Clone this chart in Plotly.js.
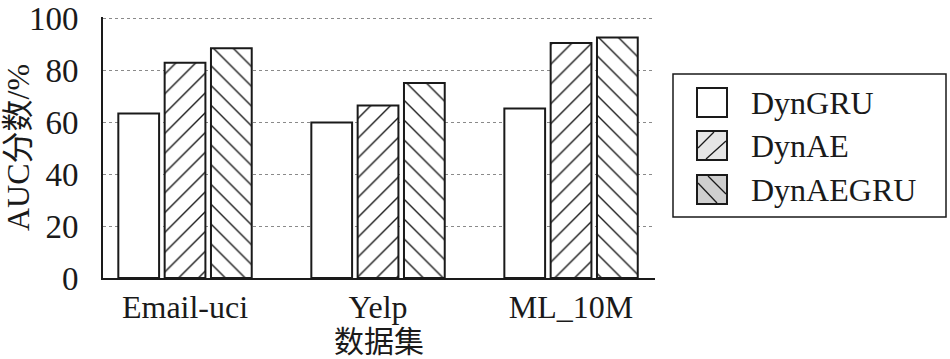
<!DOCTYPE html>
<html>
<head>
<meta charset="utf-8">
<script src="https://cdn.plot.ly/plotly-3.0.1.min.js"></script>
<style>html,body{margin:0;padding:0;background:#fff;}#chart{width:950px;height:359px;}</style>
</head>
<body>
<div id="chart"></div>
<script>
const categories = ["Email-uci", "Yelp", "ML_10M"];
const seriesNames = ["DynGRU", "DynAE", "DynAEGRU"];
const dynGRU = [63.3, 59.8, 65.2];
const dynAE = [82.8, 66.4, 90.4];
const dynAEGRU = [88.4, 75.0, 92.5];
const yTicks = [0, 20, 40, 60, 80, 100];

const FONT = "'Liberation Serif', 'Times New Roman', 'Noto Sans CJK SC', serif";
const INK = "#1a1a1a";
const shapesPat = ["", "/", "\\"];
const legendFill = ["#ffffff", "#e6e6e6", "#cfcfcf"];
const values = [dynGRU, dynAE, dynAEGRU];

const W = 950, H = 359;
const M = {l: 103, r: 295, t: 17, b: 81};
const PW = W - M.l - M.r, PH = H - M.t - M.b;
const px = x => (x - M.l) / PW;          // pixel -> paper x
const py = y => (H - M.b - y) / PH;      // pixel -> paper y

const traces = seriesNames.map((name, i) => ({
  type: "bar",
  name: name,
  x: categories,
  y: values[i],
  showlegend: false,
  marker: {
    color: "#ffffff",
    line: {color: INK, width: 2},
    pattern: {shape: shapesPat[i], fgcolor: INK, bgcolor: "#ffffff", size: 14, solidity: 0.1}
  },
  hoverinfo: "skip"
}));

// manual legend (box, swatches, hatch strokes, labels)
const lgShapes = [];
const lgAnn = [];
lgShapes.push({type: "rect", xref: "paper", yref: "paper",
  x0: px(673), x1: px(946), y0: py(217), y1: py(74),
  line: {color: INK, width: 1.5}, fillcolor: "rgba(0,0,0,0)"});
const rowTop = [88, 131, 175];
const sw = 30, sx = 697;
seriesNames.forEach((name, i) => {
  const t = rowTop[i], b = t + 29;
  lgShapes.push({type: "rect", xref: "paper", yref: "paper",
    x0: px(sx), x1: px(sx + sw), y0: py(b), y1: py(t),
    line: {color: INK, width: 2}, fillcolor: legendFill[i]});
  if (shapesPat[i] === "/") {
    lgShapes.push({type: "line", xref: "paper", yref: "paper",
      x0: px(sx + 1), y0: py(t + 17), x1: px(sx + 17), y1: py(t + 1), line: {color: INK, width: 1.3}});
    lgShapes.push({type: "line", xref: "paper", yref: "paper",
      x0: px(sx + 9), y0: py(b - 1), x1: px(sx + sw - 1), y1: py(t + 10), line: {color: INK, width: 1.3}});
  } else if (shapesPat[i] === "\\") {
    lgShapes.push({type: "line", xref: "paper", yref: "paper",
      x0: px(sx + 1), y0: py(t + 8), x1: px(sx + 20), y1: py(b - 1), line: {color: INK, width: 1.3}});
    lgShapes.push({type: "line", xref: "paper", yref: "paper",
      x0: px(sx + 11), y0: py(t + 1), x1: px(sx + sw - 1), y1: py(t + 19), line: {color: INK, width: 1.3}});
  }
  lgAnn.push({xref: "paper", yref: "paper", x: px(749), y: py(t + 14.5),
    xanchor: "left", yanchor: "middle", showarrow: false, text: name,
    font: {family: FONT, size: 32, color: INK}});
});

const layout = {
  width: W, height: H,
  margin: M,
  paper_bgcolor: "#fff", plot_bgcolor: "#fff",
  font: {family: FONT, color: INK, size: 32},
  barmode: "group",
  bargap: 0.28,
  bargroupgap: 0.12,
  showlegend: false,
  shapes: lgShapes,
  annotations: lgAnn,
  xaxis: {
    range: [-0.425, 2.435],
    showline: true, linecolor: INK, linewidth: 2,
    showgrid: false, ticks: "",
    tickfont: {family: FONT, size: 32, color: INK},
    title: {text: "数据集", font: {family: FONT, size: 30, color: INK}, standoff: 4},
    automargin: false
  },
  yaxis: {
    range: [0, 100.4],
    tickvals: yTicks,
    ticktext: yTicks.map(String),
    showline: true, linecolor: INK, linewidth: 2,
    showgrid: true, gridcolor: "#8a8a8a", griddash: "dot", gridwidth: 1,
    zeroline: false, ticks: "",
    ticklabelstandoff: 16,
    ticklabeloverflow: "allow",
    tickfont: {family: FONT, size: 33, color: INK},
    title: {text: "AUC分数/%", font: {family: FONT, size: 32, color: INK}, standoff: 4},
    automargin: false
  }
};

Plotly.newPlot("chart", traces, layout, {staticPlot: true, displayModeBar: false});
</script>
</body>
</html>
